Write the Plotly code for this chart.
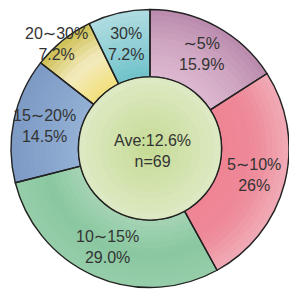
import math
import plotly.graph_objects as go

# ---- data ----
categories = ["∼5%", "5∼10%", "10∼15%", "15∼20%", "20∼30%", "30%"]
shares = [15.9, 26, 29.0, 14.5, 7.2, 7.2]
share_labels = ["15.9%", "26%", "29.0%", "14.5%", "7.2%", "7.2%"]
center_lines = ["Ave:12.6%", "n=69"]

# ---- style ----
W, H = 289, 293
# per-slice shading: colour at inner edge, middle and outer edge of the ring
shade_inner = ["#DDB8CF", "#EE8494", "#A6D4B6", "#94B0D4", "#F2E07A", "#70C2CA"]
shade_mid   = ["#D0A6C2", "#EE8A9A", "#8AC8A0", "#86A4CC", "#F3EBC0", "#92D0D6"]
shade_outer = ["#B98AAC", "#F0ACB6", "#96CDAA", "#7C9AC4", "#CDBF50", "#B0DCE0"]
center_inner, center_outer = "#C6DB96", "#DDE9C2"
FONT = "Liberation Sans, Arial, DejaVu Sans, sans-serif"
TXT = "#333333"
LINE = "#222222"
cx, cy, R = 150.0, 148.5, 139.0      # pixel geometry of the ring (from top-left)
HOLE = 0.515
N_RINGS = 12
LABEL_R = 107.5
# (radius px, angle nudge deg) for labels that sit off the ring middle
label_override = {"20∼30%": (140.5, -2.8)}
center_text_dy = 2.5


def hex2rgb(h):
    h = h.lstrip("#")
    return [int(h[i:i + 2], 16) for i in (0, 2, 4)]


def mix(a, b, t):
    ca, cb = hex2rgb(a), hex2rgb(b)
    return "rgb(%d,%d,%d)" % tuple(round(x + (y - x) * t) for x, y in zip(ca, cb))


def shade(i, t):  # t: 0 inner edge -> 1 outer edge
    if t < 0.5:
        return mix(shade_inner[i], shade_mid[i], t / 0.5)
    return mix(shade_mid[i], shade_outer[i], (t - 0.5) / 0.5)


def dom(r):
    return dict(x=[(cx - r) / W, min(1.0, (cx + r) / W)],
                y=[max(0.0, 1 - (cy + r) / H), min(1.0, 1 - (cy - r) / H)])


r_in = R * HOLE
fig = go.Figure()
for k in range(N_RINGS):
    rk = R - (R - r_in) * k / N_RINGS
    t = 1 - (k + 0.5) / N_RINGS
    fig.add_trace(go.Pie(
        labels=categories, values=shares, sort=False, direction="clockwise",
        rotation=0, textinfo="none", hoverinfo="skip",
        marker=dict(colors=[shade(i, t) for i in range(len(shares))],
                    line=dict(width=0)),
        domain=dom(rk), showlegend=False,
    ))

# outline layer
fig.add_trace(go.Pie(
    labels=categories, values=shares, sort=False, direction="clockwise",
    rotation=0, hole=HOLE, textinfo="none", hoverinfo="label+value",
    marker=dict(colors=["rgba(0,0,0,0)"] * len(shares),
                line=dict(color=LINE, width=1.4)),
    domain=dom(R), showlegend=False,
))

# center disk with soft radial shading
N_DISK = 10
for k in range(N_DISK):
    rr = r_in * (1 - k / N_DISK)
    fill = mix(center_outer, center_inner, k / (N_DISK - 1))
    fig.add_shape(type="circle", xref="paper", yref="paper",
                  x0=(cx - rr) / W, x1=(cx + rr) / W,
                  y0=1 - (cy + rr) / H, y1=1 - (cy - rr) / H,
                  fillcolor=fill, line=dict(width=0), layer="above")
fig.add_shape(type="circle", xref="paper", yref="paper",
              x0=(cx - r_in) / W, x1=(cx + r_in) / W,
              y0=1 - (cy + r_in) / H, y1=1 - (cy - r_in) / H,
              fillcolor="rgba(0,0,0,0)", line=dict(color=LINE, width=1.4),
              layer="above")

# slice labels positioned from data angles
total = sum(shares)
cum = 0.0
for cat, v, lab in zip(categories, shares, share_labels):
    mid_deg = (cum + v / 2) / total * 360
    cum += v
    r, nudge = label_override.get(cat, (LABEL_R, 0.0))
    theta = math.radians(mid_deg + nudge)
    px = cx + r * math.sin(theta)
    py = cy - r * math.cos(theta)
    fig.add_annotation(x=px / W, y=1 - py / H, xref="paper", yref="paper",
                       text=f"{cat}<br>{lab}", showarrow=False,
                       font=dict(family=FONT, size=16, color=TXT),
                       xanchor="center", yanchor="middle")

fig.add_annotation(x=(cx + 2) / W, y=1 - (cy + center_text_dy) / H,
                   xref="paper", yref="paper",
                   text="<br>".join(center_lines), showarrow=False,
                   font=dict(family=FONT, size=16, color=TXT),
                   xanchor="center", yanchor="middle")

fig.update_layout(width=W, height=H, margin=dict(l=0, r=0, t=0, b=0),
                  paper_bgcolor="white", plot_bgcolor="white")
fig.write_html("out.html", config={"displayModeBar": False},
               post_script="document.body.style.margin='0';"
                           "document.body.style.overflow='hidden';")
